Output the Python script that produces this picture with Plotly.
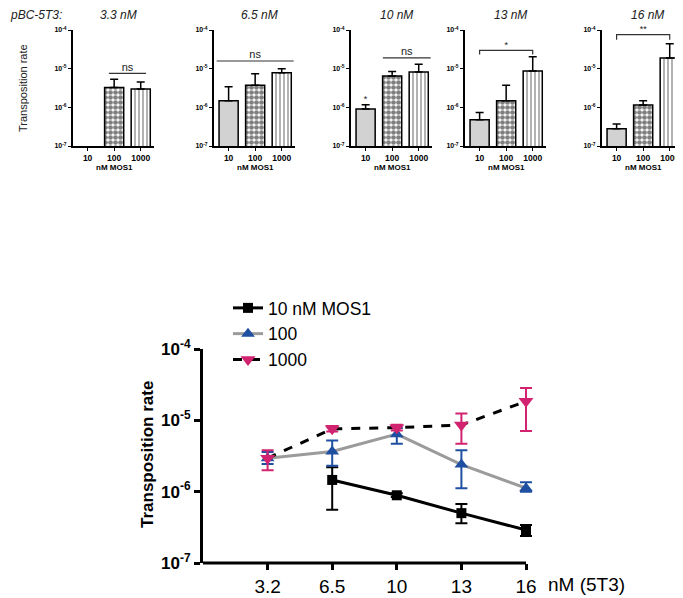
import plotly.graph_objects as go

W, H = 683, 598
OFF = 8  # the page body keeps its default 8px margin
FW, FH = W - OFF, H - OFF

mos1 = ["10", "100", "1000"]
panel_titles = ["3.3 nM", "6.5 nM", "10 nM", "13 nM", "16 nM"]

# top panels: mean transposition rate and top of the error bar, per 5T3 concentration
bar_10 = [None, 1.48e-6, 9.1e-7, 4.8e-7, 2.8e-7]
bar_10_hi = [None, 3.4e-6, 1.17e-6, 7.4e-7, 3.7e-7]
bar_10_marks = ["", "", "*", "", ""]
bar_100 = [3.26e-6, 3.75e-6, 6.5e-6, 1.48e-6, 1.15e-6]
bar_100_hi = [5.3e-6, 7.4e-6, 8.4e-6, 3.75e-6, 1.48e-6]
bar_1000 = [2.96e-6, 7.9e-6, 8.2e-6, 8.7e-6, 1.9e-5]
bar_1000_hi = [4.55e-6, 1.0e-5, 1.3e-5, 2.03e-5, 4.4e-5]

sig_labels = ["ns", "ns", "ns", "*", "**"]

# bottom panel
conc_5t3 = ["3.2", "6.5", "10", "13", "16"]
line_10 = [None, 1.46e-6, 8.9e-7, 5.0e-7, 2.9e-7]
line_10_lo = [None, 5.6e-7, 8.4e-7, 3.6e-7, 2.4e-7]
line_10_hi = [None, 2.2e-6, 9.5e-7, 6.7e-7, 3.4e-7]
line_100 = [2.95e-6, 3.65e-6, 6.4e-6, 2.4e-6, 1.12e-6]
line_100_lo = [2.45e-6, 2.3e-6, 4.7e-6, 1.12e-6, 1.0e-6]
line_100_hi = [3.6e-6, 5.2e-6, 7.8e-6, 3.8e-6, 1.35e-6]
line_1000 = [2.95e-6, 7.6e-6, 7.9e-6, 8.6e-6, 1.85e-5]
line_1000_lo = [2.0e-6, 7.0e-6, 7.2e-6, 4.7e-6, 7.1e-6]
line_1000_hi = [3.8e-6, 8.3e-6, 8.7e-6, 1.25e-5, 2.85e-5]

FONT = "Liberation Sans, Arial, sans-serif"


def px_x(p):
    return (p - OFF) / FW


def px_y(p):
    return 1 - (p - OFF) / FH


def up_err(vals, hi):
    return [(h - v) if v is not None else 0 for v, h in zip(vals, hi)]


def down_err(vals, lo):
    return [(v - l) if v is not None else 0 for v, l in zip(vals, lo)]


def note(text, x, y, size, **kw):
    d = dict(x=px_x(x), y=px_y(y), xref="paper", yref="paper", text=text,
             showarrow=False, xanchor="center", yanchor="middle",
             font=dict(family=FONT, size=size, color=kw.pop("color", "black")))
    d.update(kw)
    return d


fig = go.Figure()

# bracket geometry for each small panel: (x0, x1, y, end ticks)
brackets = [
    (0.8, 2.2, 7.6e-6, None),
    (-0.45, 2.45, 1.58e-5, None),
    (0.65, 2.45, 1.9e-5, None),
    (0.0, 2.0, 2.96e-5, 2.34e-5),
    (0.0, 2.0, 7.6e-5, 5.6e-5),
]

panel_left = [73, 214, 351, 465, 602]
panel_w = 81

bar_styles = [
    dict(color="#d2d2d2"),
    dict(color="white", pattern=dict(shape=".", fgcolor="black", bgcolor="white",
                                     size=5, solidity=0.7)),
    dict(color="white", pattern=dict(shape="|", fgcolor="black", bgcolor="white",
                                     size=4, solidity=0.3)),
]
series = [(bar_10, bar_10_hi), (bar_100, bar_100_hi), (bar_1000, bar_1000_hi)]

annotations = []
for i in range(5):
    n = i + 1
    xa = "x" if n == 1 else f"x{n}"
    ya = "y" if n == 1 else f"y{n}"
    for j, (vals, hi) in enumerate(series):
        v = vals[i]
        if v is None:
            continue
        fig.add_trace(go.Bar(
            x=[j], y=[v], xaxis=xa, yaxis=ya, width=0.72,
            marker=dict(line=dict(color="black", width=1.5), **bar_styles[j]),
            error_y=dict(type="data", symmetric=False, array=[hi[i] - v],
                         arrayminus=[0], color="black", thickness=1.5, width=4),
            showlegend=False,
        ))
    if bar_10_marks[i]:
        fig.add_trace(go.Scatter(
            x=[0], y=[bar_10_hi[i]], xaxis=xa, yaxis=ya, mode="text",
            text=[bar_10_marks[i]], textposition="top center",
            textfont=dict(family=FONT, size=9, color="#222"),
            showlegend=False, hoverinfo="skip", cliponaxis=False,
        ))
    x0, x1, yb, ytick = brackets[i]
    if ytick is None:
        bx, by = [x0, x1], [yb, yb]
    else:
        bx, by = [x0, x0, x1, x1], [ytick, yb, yb, ytick]
    fig.add_trace(go.Scatter(
        x=bx, y=by, xaxis=xa, yaxis=ya, mode="lines",
        line=dict(color="#333333", width=1.2), showlegend=False, hoverinfo="skip",
    ))
    fig.add_trace(go.Scatter(
        x=[(x0 + x1) / 2], y=[yb], xaxis=xa, yaxis=ya, mode="text",
        text=[sig_labels[i]], textposition="top center",
        textfont=dict(family=FONT, size=11 if sig_labels[i] == "ns" else 9, color="#222"),
        showlegend=False, hoverinfo="skip", cliponaxis=False,
    ))

    dom = [px_x(panel_left[i]), min(px_x(panel_left[i] + panel_w), 1)]
    fig.update_layout(**{
        ("xaxis" if n == 1 else f"xaxis{n}"): dict(
            domain=dom, anchor=ya, range=[-0.55, 2.5], automargin=False,
            tickvals=[0, 1, 2], ticktext=[f"<b>{m}</b>" for m in mos1],
            tickfont=dict(family=FONT, size=8.5, color="black"),
            showline=True, linecolor="black", linewidth=2,
            ticks="outside", ticklen=3, tickwidth=1.2, tickcolor="black",
            showgrid=False, zeroline=False, fixedrange=True,
        ),
        ("yaxis" if n == 1 else f"yaxis{n}"): dict(
            domain=[px_y(146), px_y(30)], anchor=xa, type="log", range=[-7, -4],
            automargin=False,
            tickvals=[1e-7, 1e-6, 1e-5, 1e-4],
            ticktext=[f"<b>10<sup>{e}</sup></b>" for e in (-7, -6, -5, -4)],
            tickfont=dict(family=FONT, size=7, color="black"),
            showline=True, linecolor="black", linewidth=2,
            ticks="outside", ticklen=3, tickwidth=1.2, tickcolor="black",
            showgrid=False, zeroline=False,
        ),
    })
    cx = panel_left[i] + 15 + 26.6
    annotations.append(note(f"<i>{panel_titles[i]}</i>", cx + 4, 15, 12, color="#222"))
    annotations.append(note("<b>nM MOS1</b>", cx, 168, 8))

annotations.append(note("<i>pBC-5T3:</i>", OFF, 15, 12, color="#222", xanchor="left"))
annotations.append(note("Transposition rate", 23, 88, 11, color="#222", textangle=-90))

# bottom line chart
xs = list(range(len(conc_5t3)))
blue = "#1f4fa0"
magenta = "#d1236f"
fig.add_trace(go.Scatter(
    x=xs, y=line_10, xaxis="x6", yaxis="y6", name="10 nM MOS1", mode="lines+markers",
    line=dict(color="black", width=3), marker=dict(symbol="square", size=10, color="black"),
    error_y=dict(type="data", symmetric=False, array=up_err(line_10, line_10_hi),
                 arrayminus=down_err(line_10, line_10_lo), color="black",
                 thickness=2, width=6),
    cliponaxis=False,
))
fig.add_trace(go.Scatter(
    x=xs, y=line_100, xaxis="x6", yaxis="y6", name="100", mode="lines+markers",
    line=dict(color="#9b9b9b", width=3),
    marker=dict(symbol="triangle-up", size=12, color=blue),
    error_y=dict(type="data", symmetric=False, array=up_err(line_100, line_100_hi),
                 arrayminus=down_err(line_100, line_100_lo), color=blue,
                 thickness=2, width=6),
    cliponaxis=False,
))
fig.add_trace(go.Scatter(
    x=xs, y=line_1000, xaxis="x6", yaxis="y6", name="1000", mode="lines+markers",
    line=dict(color="black", width=3, dash="dash"),
    marker=dict(symbol="triangle-down", size=13, color=magenta),
    error_y=dict(type="data", symmetric=False, array=up_err(line_1000, line_1000_hi),
                 arrayminus=down_err(line_1000, line_1000_lo), color=magenta,
                 thickness=2, width=6),
    cliponaxis=False,
))

annotations.append(note("<b>Transposition rate</b>", 147, 455, 17, textangle=-90))
annotations.append(note("nM (5T3)", 546, 584, 19, xanchor="left"))

# x range runs a little past the last category so its error caps are not clipped;
# the axis line itself stops at the last tick, as in the original
x_right = 4.15
unit_px = (526 - 203) / 5
fig.add_shape(type="line", xref="x6", yref="y6 domain", x0=-1, x1=4, y0=0, y1=0,
              line=dict(color="black", width=3))

fig.update_layout(
    width=FW, height=FH,
    margin=dict(l=0, r=0, t=0, b=0, pad=0),
    plot_bgcolor="white", paper_bgcolor="white",
    font=dict(family=FONT, color="black"),
    barmode="overlay",
    xaxis6=dict(domain=[px_x(203), px_x(526 + (x_right - 4) * unit_px)], anchor="y6",
                range=[-1, x_right],
                automargin=False, tickvals=xs, ticktext=conc_5t3,
                tickfont=dict(family=FONT, size=19, color="black"),
                showline=False,
                ticks="outside", ticklen=6, tickwidth=3, tickcolor="black",
                showgrid=False, zeroline=False),
    yaxis6=dict(domain=[px_y(563), px_y(349)], anchor="x6", type="log", range=[-7, -4],
                automargin=False,
                tickvals=[1e-7, 1e-6, 1e-5, 1e-4],
                ticktext=[f"<b>10<sup>{e}</sup></b>" for e in (-7, -6, -5, -4)],
                tickfont=dict(family=FONT, size=17, color="black"),
                showline=True, linecolor="black", linewidth=3,
                ticks="outside", ticklen=6, tickwidth=3, tickcolor="black",
                showgrid=False, zeroline=False),
    legend=dict(x=px_x(228), y=px_y(290), xanchor="left", yanchor="top",
                font=dict(family=FONT, size=17.5, color="black"),
                bgcolor="rgba(0,0,0,0)", tracegroupgap=0),
    annotations=annotations,
)

fig.write_html("out.html")
